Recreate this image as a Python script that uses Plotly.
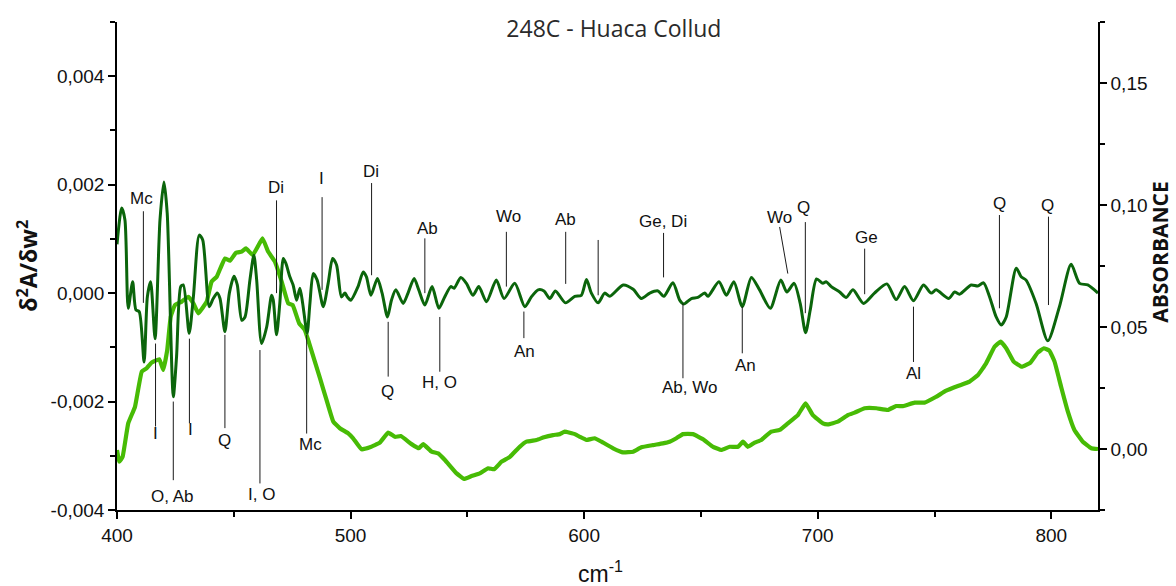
import plotly.graph_objects as go

# Second-derivative spectrum (left axis)
d2_wavenumber = [
    400.0, 402.0, 403.4, 404.8, 406.7, 408.1, 409.5, 411.6, 413.0, 414.4,
    416.3, 418.4, 420.1, 421.5, 424.1, 425.5, 427.3, 428.4, 430.9, 432.7,
    435.2, 436.7, 439.5, 441.2, 442.9, 444.1, 446.2, 448.1, 450.1, 451.5,
    453.4, 454.8, 456.9, 458.6, 459.8, 461.9, 464.1, 466.2, 466.9, 468.3,
    469.7, 471.2, 472.3, 474.0, 475.4, 476.9, 478.3, 479.5, 481.4, 482.6,
    484.0, 485.7, 488.3, 490.4, 492.3, 494.0, 496.1, 497.6, 498.6, 500.1,
    503.2, 505.4, 506.8, 508.7, 511.5, 513.5, 515.8, 517.5, 519.4, 522.5,
    524.6, 527.2, 529.2, 531.8, 534.9, 537.8, 540.3, 542.9, 544.3, 547.2,
    549.6, 552.4, 554.9, 558.2, 562.4, 565.7, 570.3, 574.6, 577.4, 580.3,
    582.8, 585.3, 587.7, 592.0, 596.0, 598.8, 601.0, 603.1, 606.0, 608.8,
    611.0, 616.7, 621.0, 624.5, 628.1, 631.6, 634.1, 638.0, 640.9, 642.6,
    645.9, 648.7, 651.6, 653.0, 657.7, 660.9, 664.1, 667.7, 671.6, 675.1,
    679.7, 684.2, 686.8, 689.9, 692.5, 694.8, 696.8, 699.5, 702.2, 703.6,
    705.8, 709.4, 712.2, 715.1, 719.6, 724.3, 729.6, 733.6, 737.2, 741.0,
    745.3, 748.6, 750.7, 756.1, 758.6, 760.7, 765.7, 768.5, 771.0, 773.6,
    776.4, 778.6, 780.7, 785.0, 787.1, 789.2, 793.5, 798.5, 803.5, 808.5,
    812.1, 815.6, 820.0,
]
d2_values = [
    0.00090, 0.00157, 0.00135, -0.00028, 0.00021, -0.00031, -0.00034, -0.00127, -0.00007, 0.00021,
    -0.00084, 0.00135, 0.00205, 0.00147, -0.00191, -0.00117, 0.00012, 0.00015, -0.00074, -0.00007,
    0.00107, 0.00098, -0.00025, -0.00010, 0.00000, -0.00010, -0.00071, 0.00000, 0.00031, 0.00015,
    -0.00050, -0.00044, 0.00024, 0.00070, 0.00024, -0.00093, -0.00062, -0.00004, -0.00013, -0.00077,
    -0.00019, 0.00064, 0.00055, 0.00030, 0.00015, -0.00013, 0.00009, -0.00019, -0.00074, -0.00019,
    0.00036, 0.00024, -0.00025, 0.00018, 0.00064, 0.00052, -0.00007, 0.00000, -0.00007, -0.00013,
    0.00012, 0.00039, 0.00030, -0.00004, 0.00027, 0.00000, -0.00044, -0.00013, 0.00006, -0.00019,
    0.00000, 0.00027, 0.00006, -0.00022, 0.00012, -0.00028, -0.00007, 0.00012, 0.00009, 0.00029,
    0.00018, -0.00004, 0.00012, -0.00016, 0.00024, -0.00010, 0.00018, -0.00025, -0.00007, 0.00006,
    0.00004, -0.00010, 0.00004, -0.00018, -0.00006, -0.00004, 0.00025, 0.00000, -0.00018, 0.00000,
    -0.00006, 0.00015, 0.00007, -0.00010, 0.00000, 0.00004, -0.00006, 0.00019, -0.00013, -0.00020,
    -0.00010, -0.00008, 0.00000, -0.00006, 0.00021, -0.00004, 0.00021, -0.00025, 0.00029, 0.00006,
    -0.00028, 0.00024, 0.00002, 0.00018, -0.00019, -0.00073, -0.00031, 0.00026, 0.00018, 0.00021,
    0.00012, 0.00002, -0.00008, 0.00006, -0.00019, 0.00000, 0.00017, -0.00012, 0.00012, -0.00014,
    0.00015, 0.00000, 0.00006, -0.00010, 0.00002, -0.00002, 0.00015, 0.00013, 0.00019, -0.00007,
    -0.00044, -0.00059, -0.00044, 0.00046, 0.00030, 0.00024, -0.00019, -0.00088, -0.00025, 0.00053,
    0.00018, 0.00015, 0.00000,
]

# Absorbance spectrum (right axis)
abs_wavenumber = [
    400.0, 401.0, 402.4, 404.8, 407.7, 410.6, 412.7, 414.8, 418.1, 419.8,
    421.5, 423.0, 424.8, 427.7, 430.5, 432.7, 434.8, 438.4, 440.5, 442.7,
    446.2, 448.4, 450.9, 453.4, 455.2, 458.1, 462.3, 464.7, 467.6, 470.5,
    473.3, 475.2, 478.0, 480.4, 482.3, 486.9, 489.7, 492.6, 495.4, 499.0,
    501.1, 504.7, 508.3, 512.5, 516.1, 519.0, 521.5, 526.1, 529.2, 531.1,
    534.7, 537.5, 540.4, 545.4, 548.6, 551.8, 555.3, 558.9, 561.5, 564.6,
    568.2, 572.4, 575.3, 579.6, 582.8, 586.7, 589.6, 591.7, 596.0, 598.1,
    601.0, 604.5, 607.4, 612.4, 616.7, 621.0, 624.5, 629.5, 633.7, 636.6,
    639.5, 642.3, 646.6, 650.9, 655.2, 658.7, 662.3, 665.9, 668.0, 670.1,
    673.0, 675.8, 680.1, 683.7, 687.2, 691.5, 694.8, 697.9, 702.2, 704.4,
    708.6, 712.9, 715.8, 720.1, 725.1, 730.0, 733.6, 736.5, 741.5, 745.7,
    750.7, 755.0, 760.0, 765.0, 768.6, 772.1, 775.7, 778.3, 780.7, 783.9,
    787.4, 791.1, 794.2, 796.8, 799.2, 801.4, 804.2, 807.1, 809.9, 813.5,
    817.1, 820.0,
]
abs_values = [
    -0.0004, -0.0052, -0.0032, 0.0105, 0.0173, 0.0317, 0.0331, 0.0354, 0.0368, 0.0324,
    0.0406, 0.0542, 0.0590, 0.0604, 0.0624, 0.0597, 0.0556, 0.0604, 0.0686, 0.0706,
    0.0781, 0.0772, 0.0804, 0.0809, 0.0822, 0.0795, 0.0863, 0.0809, 0.0768, 0.0686,
    0.0597, 0.0590, 0.0515, 0.0488, 0.0433, 0.0290, 0.0201, 0.0112, 0.0085, 0.0064,
    0.0044, -0.0001, 0.0007, 0.0026, 0.0067, 0.0050, 0.0053, 0.0020, 0.0003, 0.0020,
    -0.0011, -0.0018, -0.0045, -0.0100, -0.0123, -0.0111, -0.0100, -0.0079, -0.0083, -0.0052,
    -0.0032, 0.0009, 0.0030, 0.0037, 0.0048, 0.0057, 0.0061, 0.0071, 0.0061, 0.0050,
    0.0037, 0.0044, 0.0030, 0.0003, -0.0014, -0.0011, 0.0007, 0.0016, 0.0023, 0.0030,
    0.0044, 0.0061, 0.0061, 0.0040, 0.0009, -0.0004, 0.0009, 0.0009, 0.0030, 0.0009,
    0.0026, 0.0037, 0.0071, 0.0078, 0.0105, 0.0139, 0.0187, 0.0139, 0.0105, 0.0101,
    0.0112, 0.0139, 0.0149, 0.0167, 0.0167, 0.0160, 0.0176, 0.0176, 0.0190, 0.0190,
    0.0214, 0.0239, 0.0258, 0.0276, 0.0303, 0.0351, 0.0419, 0.0440, 0.0413, 0.0358,
    0.0337, 0.0354, 0.0395, 0.0413, 0.0403, 0.0358, 0.0255, 0.0153, 0.0078, 0.0030,
    0.0003, 0.0000,
]

# Tick labels (comma decimal separator, hyphen minus)
d2_tickvals = [-0.004, -0.002, 0.0, 0.002, 0.004]
d2_ticktext = ["-0,004", "-0,002", "0,000", "0,002", "0,004"]
abs_tickvals = [0.0, 0.05, 0.10, 0.15]
abs_ticktext = ["0,00", "0,05", "0,10", "0,15"]

# Mineral band labels: text, marker line (x0, y0) -> (x1, y1), text position
band_labels = [
    ("Mc", 411.3, 0.00151, 411.3, -0.00018, 410.3, 0.00175),
    ("Di", 468.3, 0.00171, 468.3, 0.00000, 468.0, 0.00195),
    ("I", 487.8, 0.00177, 487.8, 0.00006, 487.7, 0.00212),
    ("Di", 509.0, 0.00203, 509.0, 0.00033, 508.7, 0.00225),
    ("Ab", 531.8, 0.00101, 531.8, 0.00000, 533.1, 0.00120),
    ("Wo", 566.7, 0.00113, 566.7, 0.00012, 567.7, 0.00142),
    ("Ab", 592.1, 0.00113, 592.1, 0.00017, 592.1, 0.00136),
    ("", 606.0, 0.00098, 606.0, -0.00004, 606.0, 0.00110),
    ("Ge, Di", 634.0, 0.00111, 634.0, 0.00029, 633.6, 0.00133),
    ("Wo", 683.7, 0.00122, 687.2, 0.00036, 683.7, 0.00140),
    ("Q", 694.7, 0.00131, 694.7, -0.00037, 694.0, 0.00157),
    ("Ge", 720.1, 0.00082, 720.1, -0.00002, 720.9, 0.00103),
    ("Q", 777.8, 0.00144, 777.8, -0.00028, 777.8, 0.00166),
    ("Q", 798.8, 0.00141, 798.8, -0.00022, 798.4, 0.00162),
    ("I", 416.5, -0.00093, 416.5, -0.00246, 416.5, -0.00258),
    ("O, Ab", 424.1, -0.00200, 424.1, -0.00345, 423.8, -0.00376),
    ("I", 431.0, -0.00084, 431.0, -0.00240, 431.3, -0.00251),
    ("Q", 446.2, -0.00077, 446.2, -0.00249, 446.2, -0.00271),
    ("I, O", 461.2, -0.00105, 461.2, -0.00351, 461.9, -0.00372),
    ("Mc", 481.2, -0.00077, 481.2, -0.00259, 482.9, -0.00280),
    ("Q", 516.1, -0.00053, 516.1, -0.00154, 515.8, -0.00182),
    ("H, O", 538.2, -0.00044, 538.2, -0.00145, 538.2, -0.00165),
    ("An", 574.2, -0.00034, 574.2, -0.00083, 574.6, -0.00108),
    ("Ab, Wo", 642.3, -0.00019, 642.3, -0.00157, 645.3, -0.00174),
    ("An", 667.7, -0.00025, 667.7, -0.00111, 669.0, -0.00133),
    ("Al", 741.0, -0.00025, 741.0, -0.00127, 741.0, -0.00148),
]

DARK_GREEN = "#0b650b"
LIGHT_GREEN = "#47bb05"
TICK_FONT = dict(family="Liberation Sans, Arial, sans-serif", size=19, color="#111111")

fig = go.Figure()

# absorbance on the base axis (right side), derivative on the overlay (left side)
fig.add_trace(go.Scatter(
    x=abs_wavenumber, y=abs_values, mode="lines", yaxis="y",
    line=dict(color=LIGHT_GREEN, width=4.2, shape="spline", smoothing=0.3),
    hoverinfo="skip", showlegend=False,
))
fig.add_trace(go.Scatter(
    x=d2_wavenumber, y=d2_values, mode="lines", yaxis="y2",
    line=dict(color=DARK_GREEN, width=3, shape="spline", smoothing=0.7),
    hoverinfo="skip", showlegend=False,
))

shapes = []
annotations = []
for text, x0, y0, x1, y1, tx, ty in band_labels:
    shapes.append(dict(type="line", xref="x", yref="y2", x0=x0, y0=y0, x1=x1, y1=y1,
                       line=dict(color="#1a1a1a", width=1)))
    if text:
        annotations.append(dict(
            x=tx, y=ty, xref="x", yref="y2", text=text, showarrow=False,
            xanchor="center", yanchor="middle",
            font=dict(family="Liberation Sans, Arial, sans-serif", size=17, color="#111111"),
        ))

# axis titles
annotations.append(dict(
    x=-0.091, y=0.5, xref="paper", yref="paper", text="δ<sup>2</sup>A/δw<sup>2</sup>",
    textangle=-90, showarrow=False, xanchor="center", yanchor="middle",
    font=dict(family="Open Sans, sans-serif", size=23, color="#111111", weight="bold"),
))
annotations.append(dict(
    x=1.0632, y=0.529, xref="paper", yref="paper", text="ABSORBANCE",
    textangle=-90, showarrow=False, xanchor="center", yanchor="middle",
    font=dict(family="Open Sans, sans-serif", size=21, color="#111111", weight="bold"),
))
annotations.append(dict(
    x=0.4924, y=-0.127, xref="paper", yref="paper", text="cm<sup>-1</sup>",
    showarrow=False, xanchor="center", yanchor="middle",
    font=dict(family="Liberation Sans, Arial, sans-serif", size=23, color="#111111"),
))

fig.update_layout(
    width=1176, height=586,
    margin=dict(l=117, r=78, t=22, b=76),
    paper_bgcolor="white", plot_bgcolor="white",
    title=dict(text="248C - Huaca Collud", x=0.522, y=0.951, xanchor="center", yanchor="middle",
               font=dict(family="Open Sans, sans-serif", size=23, color="#2a2a2a")),
    xaxis=dict(
        range=[400, 820], tickvals=[400, 500, 600, 700, 800],
        ticks="outside", ticklen=7, tickwidth=1.5, tickcolor="black",
        showline=True, linecolor="black", linewidth=1.5, mirror=False,
        showgrid=False, zeroline=False, tickfont=TICK_FONT,
        minor=dict(dtick=50, tick0=400, ticks="outside", ticklen=5, tickwidth=1.5, tickcolor="black"),
    ),
    yaxis=dict(
        range=[-0.025, 0.175], side="right",
        tickvals=abs_tickvals, ticktext=abs_ticktext,
        ticks="outside", ticklen=7, tickwidth=1.5, tickcolor="black",
        showline=True, linecolor="black", linewidth=1.5,
        showgrid=False, zeroline=False, tickfont=TICK_FONT,
        minor=dict(dtick=0.025, tick0=0, ticks="outside", ticklen=5, tickwidth=1.5, tickcolor="black"),
    ),
    yaxis2=dict(
        range=[-0.004, 0.005], side="left", overlaying="y",
        tickvals=d2_tickvals, ticktext=d2_ticktext,
        ticks="outside", ticklen=7, tickwidth=1.5, tickcolor="black",
        showline=True, linecolor="black", linewidth=1.5,
        showgrid=False, zeroline=False, tickfont=TICK_FONT,
        minor=dict(dtick=0.001, tick0=0, ticks="outside", ticklen=5, tickwidth=1.5, tickcolor="black"),
    ),
    shapes=shapes,
    annotations=annotations,
)

fig.write_html("out.html")
